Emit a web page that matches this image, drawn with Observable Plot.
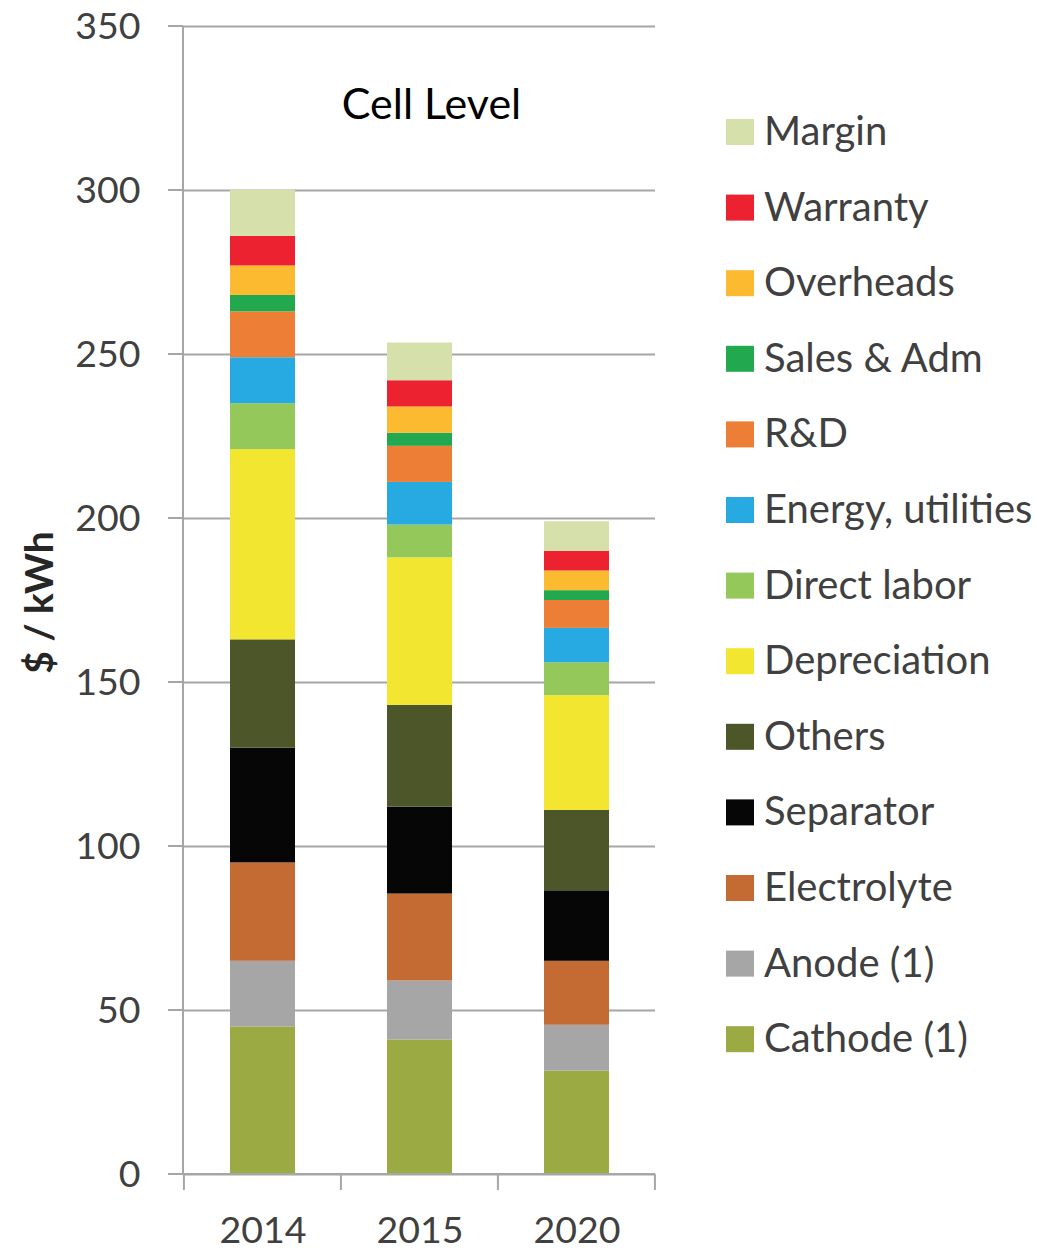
<!DOCTYPE html>
<html>
<head>
<meta charset="utf-8">
<script src="https://cdn.jsdelivr.net/npm/d3@7"></script>
<script src="https://cdn.jsdelivr.net/npm/@observablehq/plot@0.6"></script>
<style>
  html, body { margin: 0; padding: 0; background: #ffffff; }
  #wrap { position: relative; width: 1037px; height: 1254px; }
  #legend { position: absolute; left: 0; top: 0; }
</style>
</head>
<body>
<div id="wrap"></div>
<script>
// ---- data ----
const years = ["2014", "2015", "2020"];
const components = ["Cathode (1)", "Anode (1)", "Electrolyte", "Separator", "Others", "Depreciation",
  "Direct labor", "Energy, utilities", "R&D", "Sales & Adm", "Overheads", "Warranty", "Margin"];
const values2014 = [45, 20, 30, 35, 33, 58, 14, 14, 14, 5, 9, 9, 14];
const values2015 = [41, 18, 26.5, 26.5, 31, 45, 10, 13, 11, 4, 8, 8, 11.5];
const values2020 = [31.5, 14, 19.5, 21.5, 24.5, 35, 10, 10.5, 8.5, 3, 6, 6, 9];
const colors = ["#9caa44", "#a6a6a6", "#c46a33", "#060606", "#4d5629", "#f2e631",
  "#95c85a", "#27aae1", "#ed7e35", "#22a84f", "#fbba2f", "#ec2230", "#d6e0aa"];
const yTicks = [0, 50, 100, 150, 200, 250, 300, 350];
const titleText = "Cell Level";
const yLabel = "$ / kWh";

const seriesByYear = [values2014, values2015, values2020];
const data = [];
years.forEach((yr, i) => {
  components.forEach((c, j) => data.push({year: yr, component: c, value: seriesByYear[i][j]}));
});

const gridColor = "#a6a6a6";
const textColor = "#404040";
const paddingInner = 0.587;

// axis lines, tick marks and category separators drawn from the scales
function axisLines(index, scales, values, dims) {
  const {width, height, marginLeft, marginRight, marginBottom} = dims;
  const left = marginLeft, right = width - marginRight, bottom = height - marginBottom;
  const y = scales.y, x = scales.x;
  const g = d3.create("svg:g").attr("stroke", gridColor).attr("stroke-width", 2).attr("fill", "none");
  g.append("line").attr("x1", left).attr("x2", left).attr("y1", y(d3.max(yTicks))).attr("y2", bottom);
  for (const t of yTicks) {
    g.append("line").attr("x1", left - 15).attr("x2", left).attr("y1", y(t)).attr("y2", y(t));
  }
  g.append("line").attr("x1", left - 15).attr("x2", right).attr("y1", bottom).attr("y2", bottom);
  const step = x(years[1]) - x(years[0]);
  const bw = step * (1 - paddingInner);
  const start = x(years[0]) - (step - bw) / 2;
  for (let k = 0; k <= years.length; k++) {
    const px = start + k * step;
    g.append("line").attr("x1", px).attr("x2", px).attr("y1", bottom).attr("y2", bottom + 16);
  }
  return g.node();
}

const chart = Plot.plot({
  width: 1037,
  height: 1254,
  marginLeft: 183,
  marginRight: 382,
  marginTop: 26,
  marginBottom: 80,
  style: {fontFamily: "Lato, 'Open Sans', sans-serif", color: textColor, background: "white", overflow: "visible"},
  x: {domain: years, paddingInner: paddingInner, paddingOuter: paddingInner / 2, label: null},
  y: {domain: [0, 350], label: null},
  color: {domain: components, range: colors},
  marks: [
    Plot.gridY(yTicks, {stroke: gridColor, strokeOpacity: 1, strokeWidth: 2}),
    Plot.barY(data, {x: "year", y: "value", fill: "component"}),
    axisLines,
    Plot.axisY(yTicks, {tickSize: 0, tickPadding: 43, fontSize: 37.5, label: null, tickFormat: d => String(d)}),
    Plot.axisX({tickSize: 0, tickPadding: 42, fontSize: 37.5, label: null}),
    Plot.text([titleText], {frameAnchor: "top", lineAnchor: "bottom", dy: 92, dx: 12, fontSize: 43, fill: "#000"}),
    Plot.text([yLabel], {frameAnchor: "left", textAnchor: "middle", lineAnchor: "bottom", rotate: -90, dx: -131, dy: 2, fontSize: 39, fontWeight: "bold", fill: "#262626"})
  ]
});

const wrap = document.getElementById("wrap");
wrap.appendChild(chart);

// legend (top to bottom: Margin ... Cathode)
const legendItems = components.map((c, i) => ({name: c, color: colors[i]})).reverse();
const legend = d3.create("svg").attr("id", "legend").attr("width", 1037).attr("height", 1254)
  .style("font-family", "Lato, 'Open Sans', sans-serif");
const rowGap = 75.6, firstBaseline = 145;
const row = legend.selectAll("g").data(legendItems).join("g")
  .attr("transform", (d, i) => `translate(0,${firstBaseline + i * rowGap})`);
row.append("rect").attr("x", 726).attr("y", -26).attr("width", 28).attr("height", 26).attr("fill", d => d.color);
row.append("text").attr("x", 764).attr("y", 0).attr("font-size", 40).attr("fill", textColor).text(d => d.name);
wrap.appendChild(legend.node());
</script>
</body>
</html>
